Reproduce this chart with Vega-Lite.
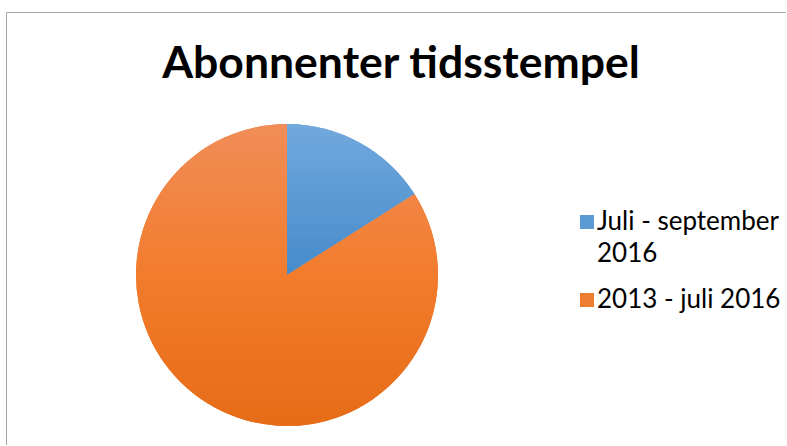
{
  "$schema": "https://vega.github.io/schema/vega-lite/v6.json",
  "autosize": {"type": "fit", "contains": "padding"},
  "width": 787,
  "height": 446,
  "padding": {"left": 6, "top": 12, "right": 0, "bottom": 0},
  "background": "white",
  "title": {
    "text": "Abonnenter tidsstempel",
    "font": "Lato",
    "fontSize": 44.5,
    "fontWeight": "bold",
    "color": "#000000",
    "anchor": "middle",
    "baseline": "alphabetic",
    "offset": -110,
    "dx": 5
  },
  "config": {
    "view": {"stroke": null},
    "style": {"guide-label": {"lineHeight": 32}}
  },
  "data": {
    "values": [
      {"kategori": "Juli - september 2016", "andel": 16, "orden": 1},
      {"kategori": "2013 - juli 2016", "andel": 84, "orden": 2}
    ]
  },
  "transform": [
    {"stack": "andel", "groupby": [], "sort": [{"field": "orden", "order": "ascending"}], "as": ["start", "slut"]}
  ],
  "layer": [
    {
      "transform": [{"filter": "datum.orden == 1"}],
      "mark": {"type": "rule", "stroke": "#a6a6a6", "strokeWidth": 1},
      "encoding": {
        "x": {"value": 0.5},
        "y": {"value": 0.5},
        "y2": {"value": "height"}
      }
    },
    {
      "transform": [{"filter": "datum.orden == 1"}],
      "mark": {"type": "rule", "stroke": "#a6a6a6", "strokeWidth": 1},
      "encoding": {
        "y": {"value": 0.5},
        "x": {"value": 0.5},
        "x2": {"value": "width"}
      }
    },
    {
      "mark": {"type": "arc", "radius": 151, "x": 281, "y": 263},
      "encoding": {
        "theta": {"field": "start", "type": "quantitative", "scale": {"domain": [0, 100]}},
        "theta2": {"field": "slut"},
        "color": {
          "field": "kategori",
          "type": "nominal",
          "sort": ["Juli - september 2016", "2013 - juli 2016"],
          "scale": {"domain": ["Juli - september 2016", "2013 - juli 2016"], "range": ["#5B9BD5", "#ED7D31"]},
          "legend": {
            "orient": "none",
            "legendX": 568,
            "legendY": 197,
            "title": null,
            "symbolType": "square",
            "symbolSize": 196,
            "symbolStrokeWidth": 0,
            "symbolOpacity": 1,
            "labelFont": "Lato",
            "labelFontSize": 26,
            "labelColor": "#000000",
            "labelLimit": 300,
            "labelOffset": -3,
            "rowPadding": 20,
            "labelExpr": "datum.label == 'Juli - september 2016' ? ['Juli - september', '2016'] : datum.label"
          }
        }
      }
    },
    {
      "transform": [{"filter": "datum.orden == 1"}],
      "mark": {
        "type": "arc",
        "radius": 151,
        "x": 281,
        "y": 263,
        "color": {
          "gradient": "linear",
          "x1": 0, "y1": 0, "x2": 0, "y2": 1,
          "stops": [
            {"offset": 0, "color": "#72A9DD"},
            {"offset": 1, "color": "#468BCB"}
          ]
        }
      },
      "encoding": {
        "theta": {"field": "start", "type": "quantitative"},
        "theta2": {"field": "slut"}
      }
    },
    {
      "transform": [{"filter": "datum.orden == 2"}],
      "mark": {
        "type": "arc",
        "radius": 151,
        "x": 281,
        "y": 263,
        "color": {
          "gradient": "linear",
          "x1": 0, "y1": 0, "x2": 0, "y2": 1,
          "stops": [
            {"offset": 0, "color": "#F18D58"},
            {"offset": 0.5, "color": "#F27C2C"},
            {"offset": 1, "color": "#E66C17"}
          ]
        }
      },
      "encoding": {
        "theta": {"field": "start", "type": "quantitative"},
        "theta2": {"field": "slut"}
      }
    }
  ]
}
